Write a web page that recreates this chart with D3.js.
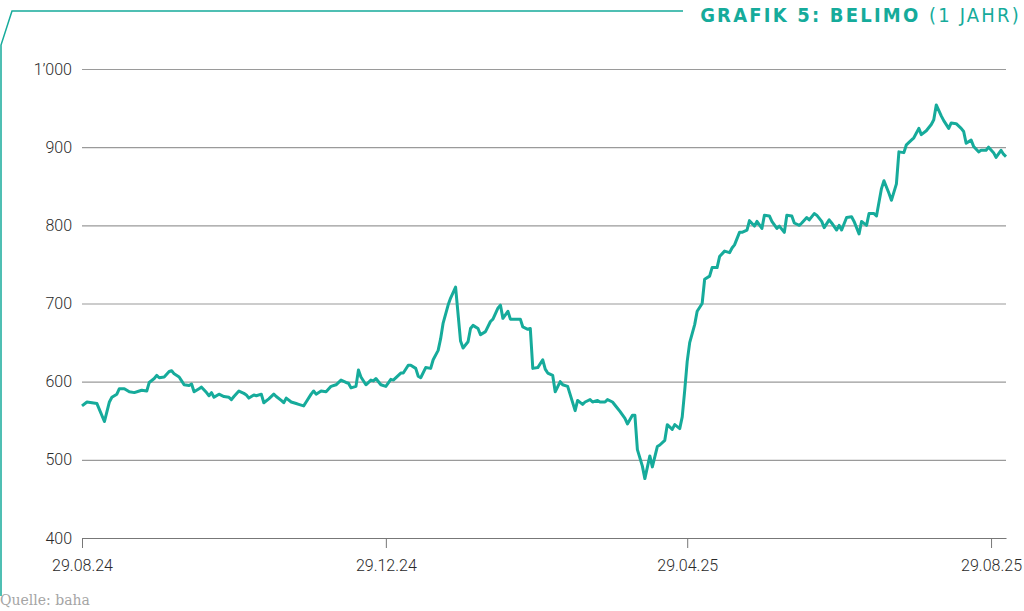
<!DOCTYPE html>
<html>
<head>
<meta charset="utf-8">
<script src="https://cdn.jsdelivr.net/npm/d3@7"></script>
<style>
    body { margin: 0; background: #fff; }
    svg { display: block; }
</style>
</head>
<body>
<svg id="grafik" width="1024" height="611"></svg>
<script>

//DATEN

// Tage seit 29.08.24 und Schlusskurse (CHF)
var tage = [0,2,4,6,9,11,12,14,15,17,19,21,23,24,26,27,29,30,31,33,35,36,37,39,40,41,43,44,45,47,
    48,50,51,52,53,55,57,59,60,61,63,65,66,67,69,70,72,73,75,77,78,80,81,82,84,86,87,89,90,92,93,94,96,
    98,100,102,104,106,107,108,110,111,112,114,116,117,118,120,122,124,125,128,129,
    131,132,134,135,136,138,140,141,143,144,145,147,148,150,152,153,155,156,157,159,
    160,162,164,165,167,168,169,171,172,174,176,177,179,180,181,183,185,186,187,189,
    190,192,193,195,198,199,201,202,204,205,207,208,210,211,213,215,216,218,219,221,
    222,223,225,226,228,229,231,232,234,235,237,238,240,241,242,243,244,246,247,249,
    250,252,253,255,256,258,260,261,262,264,265,267,268,270,271,273,274,276,277,279,
    280,282,283,285,286,288,289,291,292,294,295,297,298,300,301,303,304,305,307,309,
    310,312,313,315,316,318,319,321,322,324,325,327,328,330,331,333,334,336,337,339,
    341,342,343,345,346,348,349,351,353,354,355,357,358,360,361,363,364,366,367,369,
    370,371];

var kurse = [569,574,573,572,549,574,580,584,591,591,587,586,588,589,588,599,604,608,605,606,
    613,614,610,606,601,596,595,597,587,591,593,586,582,586,580,584,581,580,577,581,
    588,585,583,579,583,582,584,573,578,584,581,576,573,579,574,572,571,569,574,584,588,584,588,
    587,594,596,602,599,598,592,594,615,606,596,602,601,604,596,594,603,602,611,611,
    621,621,617,607,605,618,617,628,640,655,675,698,707,721,652,643,651,668,672,668,
    660,664,677,680,694,698,681,690,680,680,680,670,667,668,617,618,628,616,611,608,
    587,600,596,594,563,576,571,574,577,574,576,574,574,577,574,566,562,553,546,557,
    557,513,492,476,505,491,517,519,525,545,539,545,540,555,589,626,650,673,690,700,
    731,735,746,746,760,767,765,771,775,791,791,794,806,799,805,796,813,812,805,796,
    799,791,813,812,803,800,803,810,807,815,813,805,797,807,803,794,800,794,810,811,
    805,789,805,800,815,815,812,847,857,841,832,853,894,893,903,909,912,924,916,921,
    929,935,954,940,934,924,931,930,924,920,905,909,901,894,896,896,900,893,887,896,
    891,888];

var yTicks = [400, 500, 600, 700, 800, 900, 1000];
var xTicks = ["2024-08-29", "2024-12-29", "2025-04-29", "2025-08-29"];

var titel = "GRAFIK 5: BELIMO";
var zeitraum = "(1 JAHR)";
var quelle = "Quelle: baha";

//VARIABILI

var svg = d3.select("#grafik");
var teal = "#16ab9b";
var schrift = "Roboto, 'Liberation Sans', sans-serif";

var links = 82;
var rechts = 1006;
var oben = 69;
var unten = 538;

var start = new Date(2024, 7, 29);
var parse = d3.timeParse("%Y-%m-%d");

var punkte = d3.zip(tage, kurse).map(function(d){
    return { datum: d3.timeDay.offset(start, d[0]), wert: d[1] };
});

var x = d3.scaleTime()
    .domain([start, d3.timeDay.offset(start, 371)])
    .range([links, rechts]);

var y = d3.scaleLinear()
    .domain([400, 1000])
    .range([unten, oben]);

var fmt = d3.formatLocale({ decimal: ".", thousands: "\u2019", grouping: [3], currency: ["", ""] }).format(",");

//RAHMEN

svg.append("path")
    .attr("d", "M1,596 L1,45 L12,11 L683,11")
    .attr("fill", "none")
    .attr("stroke", teal)
    .attr("stroke-width", 1.5);

var t = svg.append("text")
    .attr("x", 1021)
    .attr("y", 22)
    .attr("text-anchor", "end")
    .attr("fill", teal)
    .style("font-family", "'Liberation Sans Narrow', 'DejaVu Sans Condensed', sans-serif")
    .style("font-size", "20px")
    .style("letter-spacing", "2.2px");

t.append("tspan").style("font-weight", "bold").text(titel + " ");
t.append("tspan").style("font-weight", "normal").text(zeitraum);

//ACHSEN

var yAchse = svg.append("g")
    .attr("transform", "translate(" + links + ",0)")
    .call(d3.axisLeft(y).tickValues(yTicks).tickFormat(fmt).tickSize(-(rechts - links)).tickPadding(10));

yAchse.select(".domain").remove();
yAchse.selectAll(".tick line")
    .attr("stroke", "#9a9a9a")
    .attr("stroke-width", 1.2);
yAchse.selectAll(".tick text")
    .attr("fill", "#2a2a2a")
    .style("font-family", schrift)
    .style("font-weight", 300)
    .style("font-size", "16px");

var xAchse = svg.append("g")
    .attr("transform", "translate(0," + unten + ")")
    .call(d3.axisBottom(x).tickValues(xTicks.map(parse)).tickFormat(d3.timeFormat("%d.%m.%y")).tickSize(10).tickSizeOuter(0).tickPadding(12));

xAchse.select(".domain").attr("stroke", "#777").attr("stroke-width", 1.2);
xAchse.selectAll(".tick line").attr("stroke", "#777");
xAchse.selectAll(".tick text")
    .attr("fill", "#2a2a2a")
    .style("font-family", schrift)
    .style("font-weight", 300)
    .style("font-size", "16px");

//LINIE

var linie = d3.line()
    .x(function(d){ return x(d.datum); })
    .y(function(d){ return y(d.wert); });

svg.append("path")
    .datum(punkte)
    .attr("d", linie)
    .attr("fill", "none")
    .attr("stroke", teal)
    .attr("stroke-width", 3)
    .attr("stroke-linejoin", "round");

//QUELLE

svg.append("text")
    .attr("x", 0)
    .attr("y", 605)
    .attr("fill", "#a5a5a5")
    .style("font-family", "'DejaVu Serif', serif")
    .style("font-size", "14px")
    .text(quelle);

</script>
</body>
</html>
